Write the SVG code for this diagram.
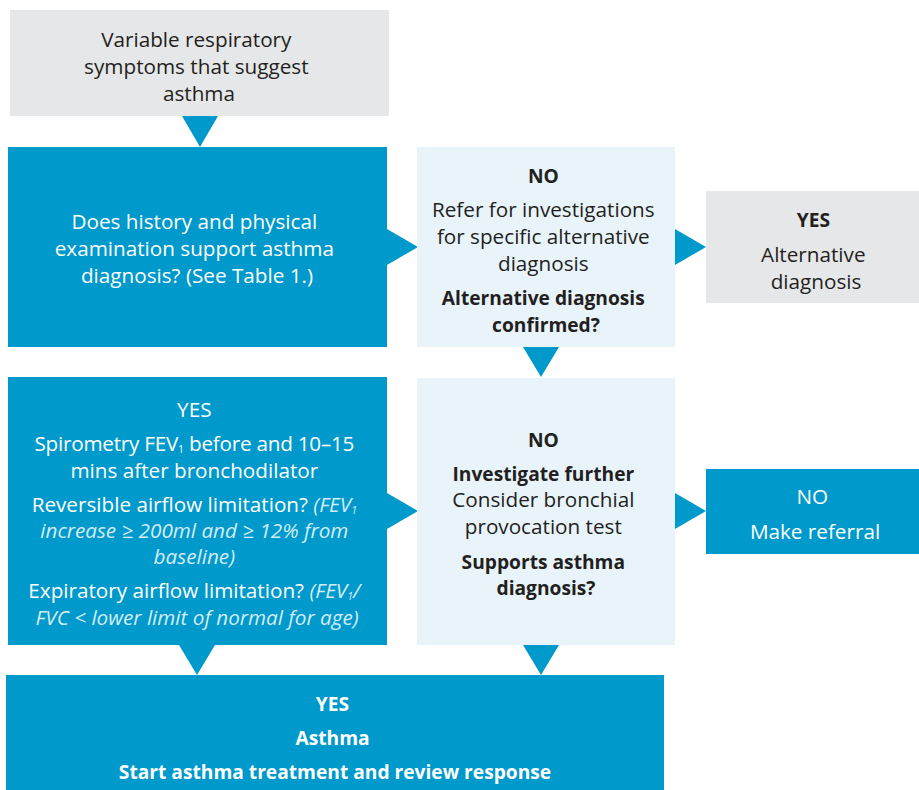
<svg xmlns="http://www.w3.org/2000/svg" width="919" height="790" viewBox="0 0 919 790">
  <style>
    text { font-family: "Open Sans", "Noto Sans", "Liberation Sans", sans-serif; font-size: 20.7px; text-anchor: middle; }
    .dark { fill: #231f20; }
    .light { fill: #ffffff; }
    .b { font-weight: 700; font-size: 19.2px; }
    .i { font-style: italic; fill: #d4ecf7; }
    .sub { font-size: 10.5px; }
    .blue { fill: #0099cc; }
    .pale { fill: #e8f3fa; }
    .grey { fill: #e6e7e8; }
  </style>

  <!-- connectors: solid triangular pointers between boxes -->
  <g id="connectors" class="blue">
    <polygon points="182,116 218,116 200,147"/>
    <polygon points="387,229 418,247 387,265"/>
    <polygon points="675,229 706,247 675,265"/>
    <polygon points="523,347 559,347 541,377"/>
    <polygon points="387,493 418,511 387,529"/>
    <polygon points="675,493 706,511 675,529"/>
    <polygon points="179,645 215,645 197,675"/>
    <polygon points="523,645 559,645 541,675"/>
  </g>

  <g id="symptoms">
    <rect class="grey" x="10" y="10" width="379" height="106"/>
    <text class="dark">
      <tspan x="199" y="47">Variable respiratory</tspan>
      <tspan x="199" y="74">symptoms that suggest</tspan>
      <tspan x="199" y="101">asthma</tspan>
    </text>
  </g>

  <g id="history">
    <rect class="blue" x="8" y="147" width="379" height="200"/>
    <text class="light">
      <tspan x="197" y="229">Does history and physical</tspan>
      <tspan x="197" y="256">examination support asthma</tspan>
      <tspan x="197" y="283">diagnosis? (See Table 1.)</tspan>
    </text>
  </g>

  <g id="refer-alternative">
    <rect class="pale" x="417" y="147" width="258" height="200"/>
    <text class="dark">
      <tspan class="b" x="546" y="183">NO</tspan>
      <tspan x="546" y="217">Refer for investigations</tspan>
      <tspan x="546" y="244">for specific alternative</tspan>
      <tspan x="546" y="271">diagnosis</tspan>
      <tspan class="b" x="546" y="305">Alternative diagnosis</tspan>
      <tspan class="b" x="546" y="332">confirmed?</tspan>
    </text>
  </g>

  <g id="alternative-diagnosis">
    <rect class="grey" x="706" y="191" width="213" height="112"/>
    <text class="dark">
      <tspan class="b" x="816" y="227">YES</tspan>
      <tspan x="816" y="262">Alternative</tspan>
      <tspan x="816" y="289">diagnosis</tspan>
    </text>
  </g>

  <g id="spirometry">
    <rect class="blue" x="8" y="377" width="379" height="268"/>
    <text class="light">
      <tspan x="197" y="417">YES</tspan>
      <tspan x="197" y="451" textLength="320">Spirometry FEV<tspan class="sub" dy="2">1</tspan><tspan dy="-2"> before and 10–15</tspan></tspan>
      <tspan x="197" y="478">mins after bronchodilator</tspan>
      <tspan x="197" y="512">Reversible airflow limitation? <tspan class="i">(FEV<tspan class="sub" dy="2">1</tspan></tspan></tspan>
      <tspan class="i" x="197" y="538">increase ≥ 200ml and ≥ 12% from</tspan>
      <tspan class="i" x="197" y="564">baseline)</tspan>
      <tspan x="197" y="598">Expiratory airflow limitation? <tspan class="i">(FEV<tspan class="sub" dy="2">1</tspan><tspan dy="-2">/</tspan></tspan></tspan>
      <tspan class="i" x="197" y="625">FVC &lt; lower limit of normal for age)</tspan>
    </text>
  </g>

  <g id="investigate-further">
    <rect class="pale" x="417" y="378" width="258" height="267"/>
    <text class="dark">
      <tspan class="b" x="546" y="447">NO</tspan>
      <tspan class="b" x="546" y="481">Investigate further</tspan>
      <tspan x="546" y="507">Consider bronchial</tspan>
      <tspan x="546" y="534">provocation test</tspan>
      <tspan class="b" x="546" y="569">Supports asthma</tspan>
      <tspan class="b" x="546" y="595">diagnosis?</tspan>
    </text>
  </g>

  <g id="referral">
    <rect class="blue" x="706" y="469" width="213" height="85"/>
    <text class="light">
      <tspan x="815" y="504">NO</tspan>
      <tspan x="815" y="539">Make referral</tspan>
    </text>
  </g>

  <g id="asthma">
    <rect class="blue" x="6" y="675" width="658" height="115"/>
    <text class="light b">
      <tspan x="335" y="711">YES</tspan>
      <tspan x="335" y="745">Asthma</tspan>
      <tspan x="335" y="779">Start asthma treatment and review response</tspan>
    </text>
  </g>
</svg>
